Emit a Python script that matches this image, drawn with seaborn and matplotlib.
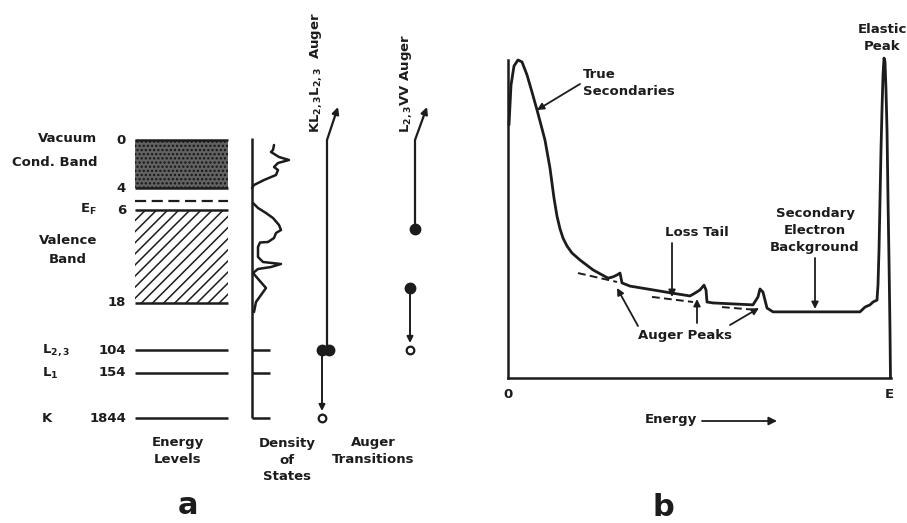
import numpy as np
import pandas as pd
import matplotlib
matplotlib.use("Agg")
import matplotlib.pyplot as plt
from matplotlib.patches import Rectangle
import seaborn as sns

# ---------------- data ----------------
# Panel a: energy levels (eV) and labels
band_edges = [0, 4, 6, 18]
core_levels = [104, 154, 1844]
core_names = ["L$_{2,3}$", "L$_1$", "K"]

# Density of states (arbitrary density, vs. diagram depth)
dos_cond_density = [22, 21, 19, 27, 37, 26, 22, 26, 24, 12, 2, 0]
dos_cond_depth = [145, 150, 152, 157, 160, 163, 167, 170, 175, 180, 185, 188]
dos_val_density = [1, 6, 14, 21, 27, 29, 24, 22, 16, 8, 6, 6, 11, 29, 19, 6, 1, 7, 14, 9, 4, 2]
dos_val_depth = [203, 208, 213, 218, 225, 230, 233, 238, 242, 242.5, 247, 257, 262, 264, 267, 269,
                 273, 280, 288, 295, 302, 312]

# Panel b: electron energy distribution N(E) (E in % of primary energy, N arbitrary)
spec_energy = [0.26, 0.79, 1.57, 2.62, 3.67, 4.99, 6.30, 7.61, 8.66, 9.71, 11.02, 12.07, 12.86,
               13.65, 14.44, 15.49, 16.80, 18.90, 22.31, 26.25, 27.56, 28.61, 29.40, 29.92, 32.02,
               38.06, 43.04, 47.77, 49.08, 50.39, 51.44, 51.97, 52.23, 53.81, 64.30, 65.62, 66.14,
               66.93, 67.45, 67.98, 69.55, 92.39, 93.70, 95.01, 95.80, 96.85, 97.11, 97.38, 97.64,
               97.90, 98.16, 98.43, 98.69, 98.95, 99.21, 99.48, 99.74, 100.0, 100.26, 100.39]
spec_counts = [79.6, 92.1, 98.1, 100.0, 99.4, 95.3, 89.9, 84.3, 79.6, 74.8, 66.0, 56.6, 50.9,
               46.9, 44.0, 41.5, 39.3, 37.1, 34.0, 31.4, 31.8, 32.4, 33.0, 29.9, 28.9,
               27.7, 26.7, 25.8, 26.7, 27.7, 29.2, 27.7, 23.9, 23.6, 23.0, 25.5, 28.0,
               27.0, 24.5, 22.0, 20.8, 20.8, 22.3, 23.0, 23.9, 24.5, 29.2, 40.3, 56.0,
               71.7, 84.3, 95.3, 100.6, 99.4, 90.6, 78.0, 56.0, 37.1, 15.1, 0.0]
# extrapolated backgrounds under the Auger peaks
bg_segment = [1, 1, 2, 2, 3, 3]
bg_energy = [18.37, 28.61, 37.80, 48.56, 56.17, 65.35]
bg_counts = [33.0, 30.2, 25.5, 23.9, 22.3, 21.4]

# ---------------- style ----------------
sns.set_style("white")
plt.rcParams["font.family"] = ["DejaVu Sans"]
plt.rcParams["font.weight"] = "bold"
plt.rcParams["mathtext.fontset"] = "custom"
plt.rcParams["mathtext.rm"] = "DejaVu Sans:bold"
plt.rcParams["mathtext.it"] = "DejaVu Sans:bold"
plt.rcParams["mathtext.bf"] = "DejaVu Sans:bold"
plt.rcParams["hatch.linewidth"] = 1.1
INK = "#1c1c1c"
FS = 9.5
LS = 1.4

W, H = 907, 523
fig = plt.figure(figsize=(W / 100, H / 100), dpi=100)

# panel b axes (energy 0..E, counts)
x0, x1, y0, y1 = -1, 102, -5, 110
pxs, pys = 3.81, 3.18
left_px = 508 + x0 * pxs
right_px = 508 + x1 * pxs
bot_py = 378 - y0 * pys
top_py = 378 - y1 * pys
bx = fig.add_axes([left_px / W, (H - bot_py) / H, (right_px - left_px) / W, (bot_py - top_py) / H])
bx.patch.set_alpha(0)

# overlay axes in diagram (pixel-like) units
ax = fig.add_axes([0, 0, 1, 1])
ax.patch.set_alpha(0)
ax.set_xlim(0, W)
ax.set_ylim(H, 0)
ax.axis("off")

# ---------------- panel b ----------------
spec = pd.DataFrame({"E": spec_energy, "N": spec_counts})
sns.lineplot(data=spec, x="E", y="N", ax=bx, color=INK, lw=2.0, sort=False, estimator=None)
bg = pd.DataFrame({"seg": bg_segment, "E": bg_energy, "N": bg_counts})
sns.lineplot(data=bg, x="E", y="N", units="seg", ax=bx, color=INK, lw=1.4, estimator=None,
             linestyle=(0, (4, 2.2)))
bx.set_xlim(x0, x1)
bx.set_ylim(y0, y1)
for s in ["top", "right"]:
    bx.spines[s].set_visible(False)
bx.spines["left"].set_position(("data", 0))
bx.spines["bottom"].set_position(("data", 0))
bx.spines["left"].set_bounds(0, 100)
bx.spines["bottom"].set_bounds(0, 100.4)
for s in ["left", "bottom"]:
    bx.spines[s].set_color(INK)
    bx.spines[s].set_linewidth(1.8)
bx.set_yticks([])
bx.set_xticks([0, 100], ["0", "E"])
bx.tick_params(axis="x", length=0, pad=7, labelsize=FS, labelcolor=INK)
bx.set_xlabel("")
bx.set_ylabel("")

def arrow(p_from, p_to, lw=1.3, ms=10):
    ax.annotate("", xy=p_to, xytext=p_from,
                arrowprops=dict(arrowstyle="-|>", lw=lw, color=INK, mutation_scale=ms,
                                shrinkA=0, shrinkB=0))

def txt(x, y, s, ha="center", va="center", **kw):
    ax.text(x, y, s, ha=ha, va=va, fontsize=kw.pop("fontsize", FS), color=INK,
            linespacing=kw.pop("linespacing", LS), **kw)

txt(583, 83, "True\nSecondaries", ha="left")
arrow((580, 84), (537, 110))
txt(882, 38, "Elastic\nPeak")
txt(697, 233, "Loss Tail")
arrow((672, 243), (672, 297))
txt(815, 231, "Secondary\nElectron\nBackground")
arrow((815, 258), (815, 309))
txt(685, 335, "Auger Peaks")
arrow((638, 326), (617, 288))
arrow((697, 323), (697, 299))
arrow((730, 325), (759, 308))
txt(671, 420, "Energy")
arrow((702, 421), (777, 421), lw=1.3, ms=12)
txt(663, 507, "b", fontsize=22)

# ---------------- panel a ----------------
level_rows = {0: 140, 4: 188, 6: 210, 18: 303, 104: 350, 154: 373, 1844: 418}
lx0, lx1 = 135, 228

# conduction band (stippled)
ax.add_patch(Rectangle((lx0, level_rows[0]), lx1 - lx0, level_rows[4] - level_rows[0],
                       facecolor="#626262", edgecolor="#151515", hatch="....", lw=0))
# valence band (hatched)
ax.add_patch(Rectangle((lx0, level_rows[6]), lx1 - lx0, level_rows[18] - level_rows[6],
                       facecolor="white", edgecolor=INK, hatch="///", lw=0))
for e in band_edges + core_levels:
    ax.hlines(level_rows[e], lx0, lx1, color=INK, lw=1.8)
    txt(126, level_rows[e], str(e), ha="right")
ax.hlines(201, lx0, lx1, color=INK, lw=1.6, linestyles=(0, (5, 2.5)))

txt(97, 138, "Vacuum", ha="right")
txt(97, 163, "Cond. Band", ha="right")
txt(97, 209, "E$_\\mathrm{F}$", ha="right")
txt(68, 250, "Valence\nBand", linespacing=1.65)
for name, e in zip(core_names, core_levels):
    txt(42, level_rows[e], name, ha="left")
txt(178, 451, "Energy\nLevels")
txt(188, 506, "a", fontsize=22)

# density of states
dos_x0 = 252
ax.vlines(dos_x0, 138, level_rows[1844], color=INK, lw=1.8)
for e in core_levels:
    ax.hlines(level_rows[e], dos_x0, dos_x0 + 18, color=INK, lw=1.8)
dos = pd.DataFrame({
    "x": [dos_x0 + d for d in dos_cond_density] + [dos_x0 + d for d in dos_val_density],
    "y": dos_cond_depth + dos_val_depth,
    "part": ["c"] * len(dos_cond_depth) + ["v"] * len(dos_val_depth),
})
sns.lineplot(data=dos, x="x", y="y", units="part", estimator=None, sort=False, ax=ax,
             color=INK, lw=1.8)
ax.set_xlim(0, W)
ax.set_ylim(H, 0)
ax.set_xlabel("")
ax.set_ylabel("")
txt(287, 460, "Density\nof\nStates")

# Auger transitions
# KL2,3L2,3
ax.vlines(327, level_rows[0], level_rows[104], color=INK, lw=1.6)
arrow((327, level_rows[0]), (338, 107), lw=1.6)
ax.plot([322, 329], [level_rows[104]] * 2, "o", color=INK, ms=7.5)
arrow((322, level_rows[104]), (322, 411), lw=1.4, ms=9)
ax.plot([322], [level_rows[1844]], "o", mfc="white", mec=INK, ms=5.5, mew=1.6)
ax.text(316, 133, "KL$_{2,3}$L$_{2,3}$  Auger", rotation=90, ha="center", va="bottom",
        fontsize=FS, color=INK)
# L2,3VV
ax.vlines(415, level_rows[0], 229, color=INK, lw=1.6)
arrow((415, level_rows[0]), (427, 107), lw=1.6)
ax.plot([415], [229], "o", color=INK, ms=7.5)
ax.plot([410], [288], "o", color=INK, ms=7.5)
arrow((410, 288), (410, 343), lw=1.4, ms=9)
ax.plot([410], [level_rows[104]], "o", mfc="white", mec=INK, ms=5.5, mew=1.6)
ax.text(406, 133, "L$_{2,3}$VV Auger", rotation=90, ha="center", va="bottom",
        fontsize=FS, color=INK)
txt(373, 451, "Auger\nTransitions")

fig.savefig("out.png", dpi=100)
